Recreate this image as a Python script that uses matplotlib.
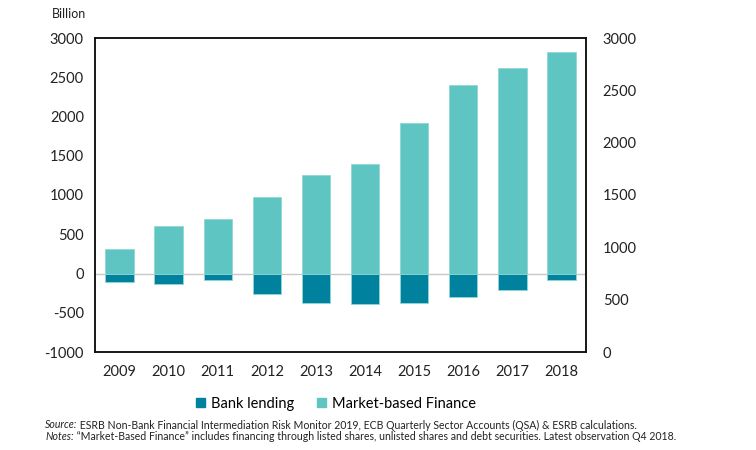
import matplotlib
matplotlib.use("Agg")
import matplotlib.pyplot as plt
from matplotlib.patches import Patch

plt.rcParams['font.family'] = ['Lato', 'DejaVu Sans']
plt.rcParams['axes.unicode_minus'] = False

years = ['2009', '2010', '2011', '2012', '2013', '2014', '2015', '2016', '2017', '2018']
market_based = [312, 605, 698, 978, 1255, 1395, 1913, 2401, 2612, 2818]
bank_lending = [-104, -130, -83, -257, -380, -392, -380, -303, -206, -83]

bank_col = '#00829E'
mbf_col = '#5EC5C2'

fig = plt.figure(figsize=(7.56, 4.5), dpi=100)
ax = fig.add_axes([95/756, 1 - 352/450, (586-95)/756, (352-38)/450])

x = range(len(years))
ax.bar(x, market_based, width=0.58, color=mbf_col, edgecolor='#8fd8d5', linewidth=0.6, zorder=2)
ax.bar(x, bank_lending, width=0.58, color=bank_col, edgecolor='#8fd8d5', linewidth=0.6, zorder=2)
ax.axhline(0, color='#c8c8c8', lw=1, zorder=1)

ax.set_xlim(-0.5, len(years) - 0.5)
ax.set_ylim(-1000, 3000)
ax.set_yticks(range(-1000, 3001, 500))
ax.set_xticks(list(x))
ax.set_xticklabels(years)
ax.tick_params(length=0, labelsize=10.5, colors='#222222', pad=8)
ax.tick_params(axis='x', pad=9)
for s in ax.spines.values():
    s.set_linewidth(1.1)
    s.set_color('#111111')

ax2 = ax.twinx()
ax2.set_ylim(0, 3000)
ax2.set_yticks(range(0, 3001, 500))
ax2.tick_params(length=0, labelsize=10.5, colors='#222222', pad=12)
for s in ax2.spines.values():
    s.set_linewidth(1.1)
    s.set_color('#111111')

fig.text(52/756, 1 - 14/450, 'Billion', fontsize=9, va='center', ha='left', color='#222222')

handles = [Patch(color=bank_col, label='Bank lending'), Patch(color=mbf_col, label='Market-based Finance')]
fig.legend(handles=handles, loc='center', bbox_to_anchor=(336/756, 1 - 404/450), ncol=2,
           frameon=False, fontsize=10.5, handlelength=0.6, handleheight=0.6,
           handletextpad=0.4, columnspacing=1.6)

fs = 7.6
t1 = fig.text(45/756, 1 - 425/450, 'Source:', fontsize=fs, style='italic', va='center', color='#222222')
ax.annotate(' ESRB Non-Bank Financial Intermediation Risk Monitor 2019, ECB Quarterly Sector Accounts (QSA) & ESRB calculations.',
            xy=(1, 0.5), xycoords=t1, va='center', ha='left', fontsize=fs, color='#222222',
            annotation_clip=False)
t2 = fig.text(45/756, 1 - 437/450, 'Notes:', fontsize=fs, style='italic', va='center', color='#222222')
ax.annotate(' \u201cMarket-Based Finance\u201d includes financing through listed shares, unlisted shares and debt securities. Latest observation Q4 2018.',
            xy=(1, 0.5), xycoords=t2, va='center', ha='left', fontsize=fs, color='#222222',
            annotation_clip=False)

fig.savefig('out.png', dpi=100)
